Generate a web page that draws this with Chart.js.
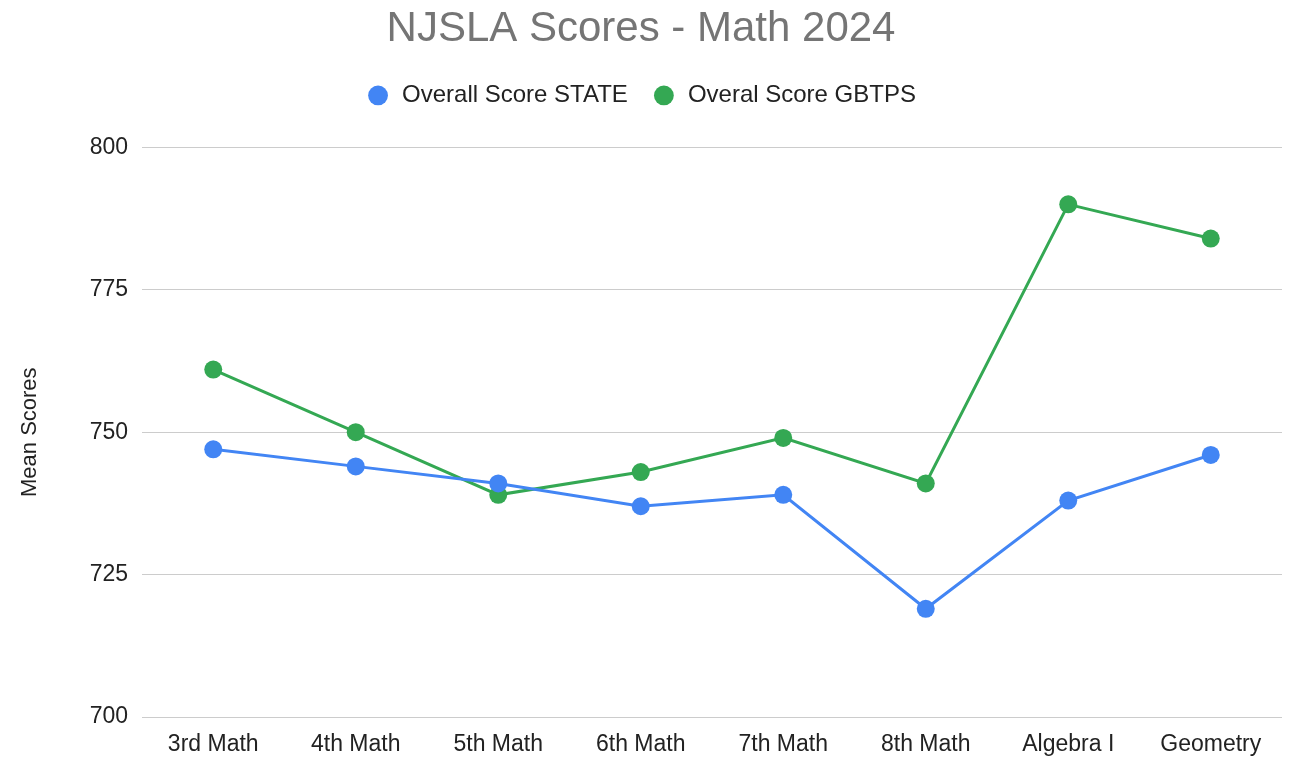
<!DOCTYPE html>
<html>
<head>
<meta charset="utf-8">
<title>NJSLA Scores - Math 2024</title>
<script src="https://cdn.jsdelivr.net/npm/chart.js@4/dist/chart.umd.min.js"></script>
<style>
  html, body { margin: 0; padding: 0; background: #fff; }
  #wrap { width: 1296px; height: 758px; }
</style>
</head>
<body>
<div id="wrap"><canvas id="chart" width="1296" height="758"></canvas></div>
<script>
// Chart data
const categories = ['3rd Math', '4th Math', '5th Math', '6th Math', '7th Math', '8th Math', 'Algebra I', 'Geometry'];
const stateScores = [747, 744, 741, 737, 739, 719, 738, 746];
const gbtpsScores = [761, 750, 739, 743, 749, 741, 790, 784];
const yTicks = [700, 725, 750, 775, 800];

const FONT = '"Liberation Sans", Arial, Helvetica, sans-serif';

// Extra space between legend and plot area
const legendMargin = {
  id: 'legendMargin',
  beforeInit(chart) {
    const fit = chart.legend.fit;
    chart.legend.fit = function () {
      fit.bind(this)();
      this.height += 30;
    };
  }
};

new Chart(document.getElementById('chart'), {
  type: 'line',
  data: {
    labels: categories,
    datasets: [
      {
        label: 'Overall Score STATE',
        data: stateScores,
        borderColor: '#4285F4',
        backgroundColor: '#4285F4',
        borderWidth: 3,
        pointRadius: 9,
        pointHoverRadius: 9,
        pointBorderWidth: 0,
        tension: 0
      },
      {
        label: 'Overal Score GBTPS',
        data: gbtpsScores,
        borderColor: '#34A853',
        backgroundColor: '#34A853',
        borderWidth: 3,
        pointRadius: 9,
        pointHoverRadius: 9,
        pointBorderWidth: 0,
        tension: 0
      }
    ]
  },
  options: {
    responsive: false,
    animation: false,
    layout: { padding: { left: 0, right: 14, top: 0, bottom: 0 } },
    plugins: {
      title: {
        display: true,
        text: 'NJSLA Scores - Math 2024',
        color: '#757575',
        font: { family: FONT, size: 42, weight: 'normal' },
        padding: { top: 4, bottom: 5 }
      },
      legend: {
        display: true,
        labels: {
          usePointStyle: true,
          pointStyle: 'circle',
          boxHeight: 14,
          padding: 24,
          color: '#222',
          font: { family: FONT, size: 24 }
        }
      },
      tooltip: { enabled: false }
    },
    scales: {
      x: {
        offset: true,
        grid: { display: false, drawTicks: false },
        border: { display: false },
        ticks: {
          color: '#222',
          font: { family: FONT, size: 23 },
          padding: 14,
          autoSkip: false,
          maxRotation: 0
        },
        afterFit(scale) { scale.height = 41; }
      },
      y: {
        min: 700,
        max: 800,
        afterBuildTicks(scale) { scale.ticks = yTicks.map(v => ({ value: v })); },
        grid: { color: '#cccccc', lineWidth: 1, drawTicks: false },
        border: { display: false },
        ticks: {
          color: '#222',
          font: { family: FONT, size: 23 },
          padding: 14
        },
        title: {
          display: true,
          text: 'Mean Scores',
          color: '#222',
          font: { family: FONT, size: 22 },
          padding: { top: 17, bottom: 0 }
        },
        afterFit(scale) { scale.width = 142; }
      }
    }
  },
  plugins: [legendMargin]
});
</script>
</body>
</html>
